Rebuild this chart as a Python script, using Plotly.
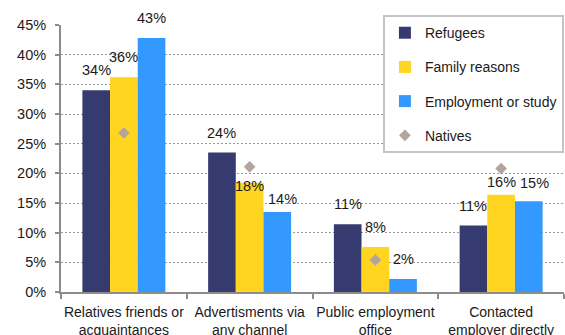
import plotly.graph_objects as go

# Job search channels by migrant group (share of employed, fraction)
categories = [
    "Relatives friends or<br>acquaintances",
    "Advertisments via<br>any channel",
    "Public employment<br>office",
    "Contacted<br>employer directly",
]
refugees = [0.34, 0.235, 0.114, 0.112]
family_reasons = [0.362, 0.184, 0.076, 0.164]
employment_study = [0.428, 0.135, 0.022, 0.153]
natives = [0.268, 0.211, 0.054, 0.208]
y_ticks = [0.0, 0.05, 0.10, 0.15, 0.20, 0.25, 0.30, 0.35, 0.40, 0.45]

series_names = ["Refugees", "Family reasons", "Employment or study"]
series_values = [refugees, family_reasons, employment_study]
series_colors = ["#363B6F", "#FFD520", "#3399FF"]
natives_color = "#B3A49E"

font_family = "Liberation Sans, Arial, sans-serif"
text_color = "#1a1a1a"
axis_color = "#8c8c8c"

BARGAP = 0.34

fig = go.Figure()
for k, (name, vals, col) in enumerate(zip(series_names, series_values, series_colors)):
    fig.add_trace(go.Bar(
        name=name, x=categories, y=vals,
        marker=dict(color=col, line=dict(width=0)),
        legendgroup=name,
    ))

fig.add_trace(go.Scatter(
    name="Natives", x=categories, y=natives, mode="markers",
    marker=dict(symbol="diamond", size=9, color=natives_color),
    legendgroup="Natives",
))

# Value labels above each bar: (xshift px, yshift px) tweaks per label
label_shift = {
    (1, 1): (0, -3),
    (1, 2): (5, 13),
    (3, 1): (0, 13),
    (3, 2): (6, 18),
}
bar_frac = (1 - BARGAP) / 3
for k, vals in enumerate(series_values):
    for i, v in enumerate(vals):
        dx, dy = label_shift.get((i, k), (0, 20))
        fig.add_annotation(
            x=i + (k - 1) * bar_frac, y=v, xref="x", yref="y",
            text=f"{round(v * 100):.0f}%", showarrow=False,
            xanchor="center", yanchor="middle",
            xshift=dx, yshift=dy,
            font=dict(family=font_family, size=14.5, color=text_color),
        )

fig.update_layout(
    width=565, height=335,
    margin=dict(l=61, r=1, t=25, b=43, autoexpand=False),
    paper_bgcolor="white", plot_bgcolor="white",
    barmode="group", bargap=BARGAP, bargroupgap=0,
    font=dict(family=font_family, size=14, color=text_color),
    showlegend=True,
    legend=dict(
        x=0.64, y=1.037, xanchor="left", yanchor="top",
        bgcolor="white", bordercolor="#c4c4c4", borderwidth=2,
        font=dict(family=font_family, size=14, color=text_color),
        traceorder="grouped", tracegroupgap=13,
        itemwidth=30,
    ),
)

fig.update_xaxes(
    type="category", automargin=False, tickangle=0,
    showline=True, linecolor=axis_color, linewidth=2,
    ticks="outside", tickson="boundaries", ticklen=5, tickcolor=axis_color, tickwidth=2,
    showgrid=False, ticklabelstandoff=6,
    tickfont=dict(family=font_family, size=14, color=text_color),
)
# Dashed gridlines at each labelled tick
fig.update_yaxes(
    range=[0, 0.45], tickvals=y_ticks, tickformat=".0%", automargin=False,
    showline=True, linecolor=axis_color, linewidth=2,
    ticks="outside", ticklen=4, tickcolor=axis_color, tickwidth=2,
    showgrid=True, gridcolor="#999999", gridwidth=1, griddash="2px,2px",
    zeroline=False,
    tickfont=dict(family=font_family, size=14.5, color=text_color),
    ticklabelstandoff=6,
)

fig.write_html("out.html")
